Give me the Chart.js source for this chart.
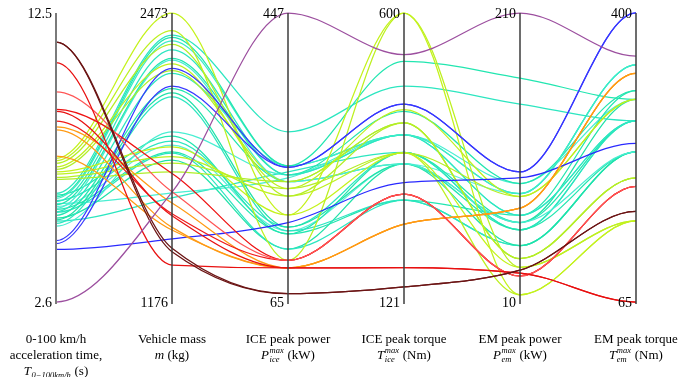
<!DOCTYPE html>
<html><head><meta charset="utf-8">
<script src="https://cdn.jsdelivr.net/npm/chart.js@4/dist/chart.umd.min.js"></script>
<style>html,body{margin:0;padding:0;background:#fff;}#wrap{width:689px;height:377px;}</style>
</head><body><div id="wrap"><canvas id="c" width="689" height="377"></canvas></div>
<script>
// ---- axes (categories) ----
const axisKeys = ['accel', 'mass', 'icePower', 'iceTorque', 'emPower', 'emTorque'];
const axisMin = [2.6, 1176, 65, 121, 10, 65];
const axisMax = [12.5, 2473, 447, 600, 210, 400];
const minLabels = ['2.6', '1176', '65', '121', '10', '65'];
const maxLabels = ['12.5', '2473', '447', '600', '210', '400'];

// ---- vehicles: one value per axis ----
const accel = [2.6, 11.5, 11.5, 10.8, 9.8, 9.2, 9.13, 8.8, 8.6, 8.5, 7.6, 4.7, 4.6, 4.4,
  7.52, 7.44, 7.35, 7.23, 7.14, 7.06, 6.98, 6.87, 6.8,
  6.32, 6.2, 6.15, 6.04, 5.93, 5.81, 5.69, 5.57, 5.41, 5.29, 5.2, 6.26, 6.07, 5.87, 5.77, 5.67, 5.47, 5.97, 5.37];
const mass = [1669, 1417, 1402, 1342, 1671, 1753, 1563, 1572, 1620, 1511, 1499, 2225, 2145, 1459,
  2473, 2394, 2332, 2245, 2214, 1872, 1828, 1799, 1760,
  2374, 2364, 2348, 2307, 2269, 2262, 2202, 2134, 2115, 2097, 1939, 1920, 1898, 1880, 1850, 1844, 1813, 1666, 1643];
const icePower = [447, 76, 76, 110, 120, 120, 110, 120, 110, 110, 110, 243, 243, 170,
  180, 120, 205, 215, 224, 180, 205, 215, 224,
  290, 245, 245, 233, 233, 224, 245, 224, 164, 159, 233, 155, 164, 159, 155, 135, 135, 229, 237];
const iceTorque = [531, 146, 146, 178, 300, 300, 178, 300, 250, 250, 250, 449, 449, 319,
  600, 600, 418, 440, 418, 368, 368, 368, 418,
  479, 520, 398, 398, 437, 350, 398, 350, 350, 290, 398, 369, 369, 350, 290, 290, 350, 398, 369];
const emPower = [210, 32, 32, 30, 28, 28, 30, 28, 75, 75, 75, 100, 100, 96,
  15, 34, 40, 83, 40, 34, 15, 83, 40,
  147, 165, 85, 70, 92, 65, 85, 60, 49, 49, 70, 65, 60, 85, 70, 49, 65, 92, 60];
const emTorque = [350, 170, 170, 65, 199, 199, 65, 199, 330, 330, 330, 400, 400, 249,
  159, 159, 209, 300, 209, 159, 159, 300, 209,
  275, 300, 340, 275, 310, 239, 340, 239, 239, 239, 275, 275, 275, 340, 310, 239, 300, 300, 275];
const lineColors = ['#9c4f9f', '#6b1414', '#6b1414', '#e81010', '#ff5555', '#ee1111', '#e81010', '#f01a1a', '#ff9a14', '#ff9a14', '#ff9a14', '#3636ff', '#3a3aff', '#2a2aff',
  '#c4f21c', '#bdf020', '#b6ee26', '#c0f01e', '#b0ee2a', '#c4f21c', '#bdf020', '#b6ee26', '#b0ee2a',
  '#2ce6c0', '#22e6b0', '#3decc8', '#2ce6c0', '#22e6b0', '#4aeed2', '#2ce6c0', '#22e6b0', '#1fe2a8', '#2ce6c0', '#4aeed2', '#22e6b0', '#2ce6c0', '#5af0da', '#22e6b0', '#2ce6c0', '#1fe2a8', '#4aeed2', '#2ce6c0'];

const columns = [accel, mass, icePower, iceTorque, emPower, emTorque];
const datasets = accel.map((_, i) => ({
  data: columns.map((col, k) => (col[i] - axisMin[k]) / (axisMax[k] - axisMin[k])),
  borderColor: lineColors[i], borderWidth: 1.25, pointRadius: 0, tension: 0.4, fill: false, clip: false
}));

// monotone (Steffen) curve with flat ends, computed from the library's point positions
const monoPlugin = {
  id: 'mono',
  beforeDatasetDraw(chart, args) {
    const meta = args.meta, pts = meta.data, n = pts.length;
    const xs = pts.map(p => p.x), ys = pts.map(p => p.y);
    const m = new Array(n).fill(0);
    for (let i = 1; i < n - 1; i++) {
      const h0 = xs[i] - xs[i - 1], h1 = xs[i + 1] - xs[i];
      const s0 = (ys[i] - ys[i - 1]) / h0, s1 = (ys[i + 1] - ys[i]) / h1;
      const p = (s0 * h1 + s1 * h0) / (h0 + h1);
      m[i] = (Math.sign(s0) + Math.sign(s1)) * Math.min(Math.abs(s0), Math.abs(s1), 0.5 * Math.abs(p)) || 0;
    }
    for (let i = 0; i < n; i++) {
      const p = pts[i];
      if (i > 0) { const h = (xs[i] - xs[i - 1]) / 3; p.cp1x = xs[i] - h; p.cp1y = ys[i] - m[i] * h; }
      else { p.cp1x = xs[i]; p.cp1y = ys[i]; }
      if (i < n - 1) { const h = (xs[i + 1] - xs[i]) / 3; p.cp2x = xs[i] + h; p.cp2y = ys[i] + m[i] * h; }
      else { p.cp2x = xs[i]; p.cp2y = ys[i]; }
    }
    meta.dataset._pointsUpdated = true;
    meta.dataset._path = undefined;
  }
};

const titles = [
  [[{t: '0-100 km/h'}], [{t: 'acceleration time,'}], [{t: 'T', i: 1}, {sub: '0\u2212100km/h'}, {t: ' (s)'}]],
  [[{t: 'Vehicle mass'}], [{t: 'm', i: 1}, {t: ' (kg)'}]],
  [[{t: 'ICE peak power'}], [{t: 'P', i: 1}, {sup: 'max', sub: 'ice'}, {t: ' (kW)'}]],
  [[{t: 'ICE peak torque'}], [{t: 'T', i: 1}, {sup: 'max', sub: 'ice'}, {t: ' (Nm)'}]],
  [[{t: 'EM peak power'}], [{t: 'P', i: 1}, {sup: 'max', sub: 'em'}, {t: ' (kW)'}]],
  [[{t: 'EM peak torque'}], [{t: 'T', i: 1}, {sup: 'max', sub: 'em'}, {t: ' (Nm)'}]]
];
const SERIF = '"Liberation Serif", "Times New Roman", serif';
const TFS = 13, SFS = 8.5;

function segWidth(ctx, s) {
  if (s.t !== undefined) { ctx.font = (s.i ? 'italic ' : '') + TFS + 'px ' + SERIF; return ctx.measureText(s.t).width; }
  ctx.font = 'italic ' + SFS + 'px ' + SERIF;
  return Math.max(s.sup ? ctx.measureText(s.sup).width : 0, s.sub ? ctx.measureText(s.sub).width : 0) + 1;
}
function drawRich(ctx, segs, cx, cy) {
  const ws = segs.map(s => segWidth(ctx, s));
  let x = cx - ws.reduce((a, b) => a + b, 0) / 2;
  ctx.textAlign = 'left'; ctx.textBaseline = 'middle'; ctx.fillStyle = '#000';
  segs.forEach((s, k) => {
    if (s.t !== undefined) { ctx.font = (s.i ? 'italic ' : '') + TFS + 'px ' + SERIF; ctx.fillText(s.t, x, cy); }
    else {
      ctx.font = 'italic ' + SFS + 'px ' + SERIF;
      if (s.sup) ctx.fillText(s.sup, x + 0.5, cy - 5);
      if (s.sub) ctx.fillText(s.sub, x + 0.5, cy + 3.5);
    }
    x += ws[k];
  });
}

const axesPlugin = {
  id: 'pcAxes',
  afterDatasetsDraw(chart) {
    const ctx = chart.ctx, xs = chart.scales.x, ys = chart.scales.y;
    const yTop = ys.getPixelForValue(1), yBot = ys.getPixelForValue(0);
    ctx.save();
    axisKeys.forEach((k, i) => {
      const x = xs.getPixelForValue(i);
      ctx.strokeStyle = i === 0 ? '#7a7a7a' : '#3c3c3c';
      ctx.lineWidth = i === 0 ? 2 : 1.5;
      ctx.beginPath(); ctx.moveTo(x, yTop); ctx.lineTo(x, yBot + 2); ctx.stroke();
      ctx.fillStyle = '#000'; ctx.font = '14px ' + SERIF; ctx.textAlign = 'right'; ctx.textBaseline = 'middle';
      ctx.fillText(maxLabels[i], x - 4, yTop + 1);
      ctx.fillText(minLabels[i], x - 4, yBot + 1.5);
      titles[i].forEach((line, j) => drawRich(ctx, line, x, yBot + 38 + j * 16));
    });
    ctx.restore();
  }
};

new Chart(document.getElementById('c'), {
  type: 'line',
  data: {labels: axisKeys, datasets},
  options: {
    responsive: false, animation: false, events: [],
    layout: {padding: {left: 56, right: 53, top: 13, bottom: 75}},
    plugins: {legend: {display: false}, tooltip: {enabled: false}},
    scales: {x: {display: false, offset: false}, y: {display: false, min: 0, max: 1}}
  },
  plugins: [monoPlugin, axesPlugin]
});
</script></body></html>
